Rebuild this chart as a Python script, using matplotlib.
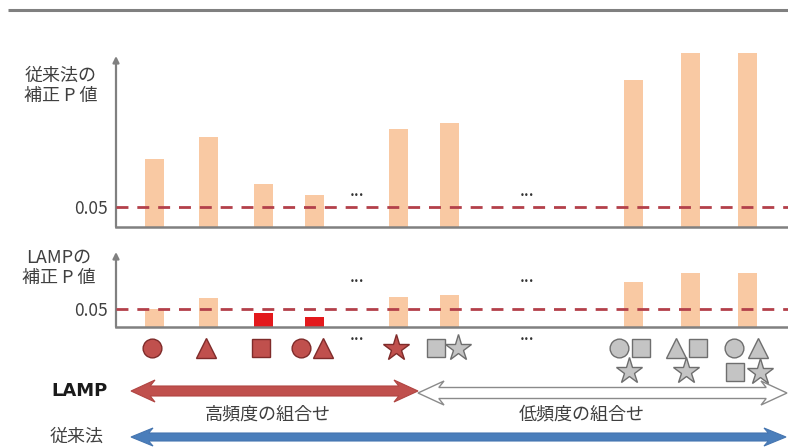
import matplotlib
matplotlib.use('Agg')
import matplotlib.pyplot as plt
from matplotlib.patches import Polygon

plt.rcParams['font.family'] = ['Noto Sans CJK JP', 'DejaVu Sans']

W, H = 788, 448   # canvas in pixels

# ── data ────────────────────────────────────────────────────────────────
bar_x = [154, 208, 263, 314, 398, 449, 633, 690, 747]      # combination columns
conv_p = [0.170, 0.225, 0.108, 0.080, 0.245, 0.260, 0.368, 0.435, 0.435]
lamp_p = [0.050, 0.080, 0.039, 0.028, 0.083, 0.089, 0.125, 0.150, 0.150]
lamp_sig = [False, False, True, True, False, False, False, False, False]
patterns = [['o'], ['^'], ['s'], ['o', '^'], ['*'], ['s', '*'],
            ['o', 's', '*'], ['^', 's', '*'], ['o', '^', 's', '*']]
high_freq = [True, True, True, True, True, False, False, False, False]
ellipsis_x = [357, 527]
alpha_level = 0.05

PEACH = '#f9c9a3'
SIGRED = '#e3191c'
DASH = '#b3404a'
AXIS = '#808080'
TXT = '#404040'

fig = plt.figure(figsize=(W / 100, H / 100), dpi=100)
canvas = fig.add_axes([0, 0, 1, 1])
canvas.set_xlim(0, W)
canvas.set_ylim(H, 0)
canvas.axis('off')

# top rule
canvas.plot([8, W], [10, 10], color=AXIS, lw=2.2, solid_capstyle='butt')


def panel(top_px, base_px, ppu, tip_px, values, colors):
    ax = fig.add_axes([116 / W, 1 - base_px / H, (W - 116) / W, (base_px - top_px) / H])
    ax.patch.set_alpha(0)
    ax.set_xlim(116, W)
    ax.set_ylim(0, (base_px - top_px) / ppu)
    for s in ['top', 'right', 'left']:
        ax.spines[s].set_visible(False)
    ax.spines['bottom'].set_color(AXIS)
    ax.spines['bottom'].set_linewidth(1.8)
    ax.annotate('', xy=(0, (base_px - tip_px) / ppu), xytext=(0, 0),
                xycoords=('axes fraction', 'data'),
                arrowprops=dict(arrowstyle='-|>', color=AXIS, lw=1.6,
                                mutation_scale=9, shrinkA=0, shrinkB=0),
                annotation_clip=False)
    ax.bar(bar_x, values, width=19, color=colors, zorder=2)
    ax.axhline(alpha_level, color=DASH, lw=2, dashes=(4.3, 3.2), zorder=3)
    ax.set_xticks([])
    ax.set_yticks([alpha_level])
    ax.set_yticklabels(['0.05'], fontsize=12.5, color=TXT)
    ax.tick_params(axis='y', length=0, pad=6)
    return ax


panel(50, 227, 400, 56, conv_p, [PEACH] * len(conv_p))
panel(248, 327, 360, 252, lamp_p, [SIGRED if s else PEACH for s in lamp_sig])

# axis captions
canvas.text(61, 86, '従来法の\n補正 P 値', ha='center', va='center',
            fontsize=13, color=TXT, linespacing=1.15)
canvas.text(59, 268, 'LAMPの\n補正 P 値', ha='center', va='center',
            fontsize=13, color=TXT, linespacing=1.15)

# ellipses
for ex in ellipsis_x:
    for ey in [196, 281, 340]:
        canvas.text(ex, ey, '•••', ha='center', va='center', fontsize=6,
                    color='#333333', family='DejaVu Sans')

# combination symbols
offsets = {1: [(0, 0)],
           2: [(-11, 0), (11, 0)],
           3: [(-12, 0), (10, 0), (-2, 23)],
           4: [(-11, 0), (13, 0), (-10, 24), (15, 24)]}
for bx, pat, hf in zip(bar_x, patterns, high_freq):
    fc, ec = ('#c0504d', '#7f2b2a') if hf else ('#c4c4c4', '#6e6e6e')
    for m, (dx, dy) in zip(pat, offsets[len(pat)]):
        ms = {'*': 20, 's': 13, '^': 14}.get(m, 13.5)
        canvas.plot(bx + dx - 2, 348 + dy, marker=m, ms=ms, mfc=fc, mec=ec,
                    mew=1, ls='none')


def double_arrow(x0, x1, y, shaft, head_w, head_l, **kw):
    s, h = shaft / 2, head_w / 2
    pts = [(x0, y), (x0 + head_l, y - h), (x0 + head_l * 0.8, y - s),
           (x1 - head_l * 0.8, y - s), (x1 - head_l, y - h), (x1, y),
           (x1 - head_l, y + h), (x1 - head_l * 0.8, y + s),
           (x0 + head_l * 0.8, y + s), (x0 + head_l, y + h)]
    canvas.add_patch(Polygon(pts, closed=True, **kw))


double_arrow(418, 787, 393, 11, 24, 26, facecolor='white', edgecolor='#8a8a8a', lw=1)
double_arrow(131, 418, 391, 10, 22, 24, facecolor='#c0504d', edgecolor='#b04542', lw=0.8)
double_arrow(131, 786, 437, 8, 18, 22, facecolor='#4a7ebb', edgecolor='#4575b0', lw=0.8)

canvas.text(80, 391, 'LAMP', ha='center', va='center', fontsize=13,
            fontweight='bold', color='#1a1a1a', family='DejaVu Sans')
canvas.text(77, 437, '従来法', ha='center', va='center', fontsize=13, color=TXT)
canvas.text(268, 414, '高頻度の組合せ', ha='center', va='center', fontsize=13, color=TXT)
canvas.text(582, 414, '低頻度の組合せ', ha='center', va='center', fontsize=13, color=TXT)

fig.savefig('out.png', dpi=100)
